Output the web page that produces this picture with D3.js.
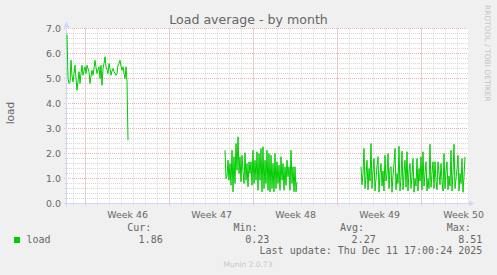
<!DOCTYPE html>
<html>
<head>
<meta charset="utf-8">
<script src="https://cdn.jsdelivr.net/npm/d3@7"></script>
<style>
body { margin: 0; background: #f0f0f0; }
svg { display: block; }
</style>
</head>
<body>
<div id="chart"></div>
<script>
// time window shown by the month graph (UTC)
var rangeStart = "2025-11-08T10:40:00Z"
var rangeEnd = "2025-12-11T20:40:00Z"
var stepHours = 2

// week grid and labels
var weekStarts = ["2025-11-10", "2025-11-17", "2025-11-24", "2025-12-01", "2025-12-08"]
var weekLabels = ["Week 46", "Week 47", "Week 48", "Week 49", "Week 50"]
var yTicks = [0, 1, 2, 3, 4, 5, 6, 7]

// load samples, one every 2 hours, three runs with gaps in between
var seg1Start = "2025-11-08T10:40:00Z"
var seg1Values = [6.76, 5.0, 4.8, 4.85, 5.73, 5.1, 4.87, 5.2, 5.53, 5.0, 4.53, 4.9, 5.27, 4.8, 5.2, 5.53,
    5.13, 5.3, 5.47, 5.2, 5.53, 5.4, 5.27, 4.8, 5.1, 5.33, 5.13, 5.4, 5.73, 5.45, 5.2, 5.35, 5.47, 5.0,
    5.53, 4.73, 5.4, 5.6, 5.87, 5.47, 5.35, 5.2, 5.6, 5.4, 5.13, 5.3, 5.4, 5.27, 5.2, 5.13, 5.2, 5.53,
    5.6, 5.73, 5.5, 5.33, 5.47, 5.2, 5.0, 5.47, 4.87, 2.53]
var seg2Start = "2025-11-21T14:40:00Z"
var seg2Values = [2.13, 1.0, 1.07, 1.73, 0.93, 1.6, 0.73, 2.13, 0.47, 1.87, 0.8, 2.4, 1.33, 2.67, 1.2, 1.87,
    0.87, 1.93, 1.27, 0.8, 2.03, 0.93, 1.6, 0.67, 1.67, 1.2, 1.67, 0.73, 2.13, 0.8, 1.73, 0.93, 2.07, 0.53,
    2.0, 0.93, 2.2, 0.47, 2.27, 0.6, 1.73, 0.8, 2.13, 0.53, 2.0, 0.47, 1.93, 0.6, 1.6, 0.47, 2.0, 0.6,
    1.67, 0.8, 1.53, 0.53, 1.87, 0.93, 1.6, 0.53, 1.47, 0.73, 1.73, 1.07, 1.47, 0.53, 2.13, 0.8, 1.47,
    0.47, 1.47, 0.47, 0.87]
var seg3Start = "2025-12-02T22:40:00Z"
var seg3Values = [1.47, 0.75, 1.2, 2.2, 0.6, 1.1, 1.73, 0.55, 1.4, 0.9, 2.4, 0.6, 1.3, 1.8, 0.5, 1.0,
    1.5, 1.87, 0.45, 1.2, 1.6, 0.7, 1.3, 0.5, 1.93, 0.9, 1.2, 2.0, 0.6, 1.4, 1.47, 0.45, 1.1, 1.6, 2.2,
    0.55, 1.2, 0.8, 2.29, 0.5, 1.0, 2.09, 0.55, 1.2, 1.73, 0.65, 2.07, 0.5, 1.3, 1.6, 0.6, 1.1, 1.8,
    0.45, 1.0, 0.7, 1.8, 0.5, 1.4, 0.9, 1.87, 0.55, 2.07, 0.7, 1.2, 1.67, 0.5, 1.0, 0.6, 2.37, 0.65,
    1.2, 1.67, 0.6, 1.67, 0.9, 0.55, 1.67, 1.2, 0.75, 1.6, 0.9, 0.5, 2.0, 0.6, 1.3, 1.67, 0.55, 1.1,
    0.7, 2.13, 0.5, 1.2, 2.37, 0.6, 1.0, 1.4, 1.93, 0.5, 1.2, 0.8, 1.8, 0.45, 1.1, 1.87]

// legend numbers
var legendHeads = ["Cur:", "Min:", "Avg:", "Max:"]
var legendValues = ["1.86", "0.23", "2.27", "8.51"]
var lastUpdate = "Last update: Thu Dec 11 17:00:24 2025"

// size of the picture and of the plot area
var width = 497
var height = 275
var plotLeft = 67, plotRight = 468, plotTop = 28.5, plotBottom = 203.5

var svg = d3.select("#chart")
    .append("svg")
    .attr("width", width)
    .attr("height", height)
    .style("background", "#f0f0f0")

var x = d3.scaleUtc()
    .domain([new Date(rangeStart), new Date(rangeEnd)])
    .range([plotLeft, plotRight])

var y = d3.scaleLinear()
    .domain([0, 7])
    .range([plotBottom, plotTop])

// white canvas
svg.append("rect")
    .attr("x", plotLeft).attr("y", plotTop - 0.5)
    .attr("width", plotRight - plotLeft).attr("height", plotBottom - plotTop + 0.5)
    .attr("fill", "#ffffff")

var crisp = function (v) { return Math.round(v - 0.5) + 0.5 }

// minor grid: every day and every 0.2
var days = d3.utcDay.range(x.domain()[0], x.domain()[1])
svg.selectAll(".vminor")
    .data(days)
    .enter()
    .append("line")
    .attr("x1", function (d) { return crisp(x(d)) })
    .attr("x2", function (d) { return crisp(x(d)) })
    .attr("y1", plotTop).attr("y2", plotBottom + 2)
    .attr("stroke", "#d6d6d6")
    .attr("stroke-dasharray", "1,1")

var minorY = d3.range(0.2, 7, 0.2).filter(function (v) { return Math.abs(v - Math.round(v)) > 0.01 })
svg.selectAll(".hminor")
    .data(minorY)
    .enter()
    .append("line")
    .attr("x1", plotLeft - 2).attr("x2", plotRight)
    .attr("y1", function (d) { return crisp(y(d)) })
    .attr("y2", function (d) { return crisp(y(d)) })
    .attr("stroke", "#d6d6d6")
    .attr("stroke-dasharray", "1,1")

// major grid: weeks and whole numbers
svg.selectAll(".vmajor")
    .data(weekStarts)
    .enter()
    .append("line")
    .attr("x1", function (d) { return crisp(x(new Date(d + "T00:00:00Z"))) })
    .attr("x2", function (d) { return crisp(x(new Date(d + "T00:00:00Z"))) })
    .attr("y1", plotTop).attr("y2", plotBottom + 3)
    .attr("stroke", "#eeb0b0")
    .attr("stroke-dasharray", "1,1")

svg.selectAll(".hmajor")
    .data(yTicks.slice(1))
    .enter()
    .append("line")
    .attr("x1", plotLeft - 3).attr("x2", plotRight)
    .attr("y1", function (d) { return crisp(y(d)) })
    .attr("y2", function (d) { return crisp(y(d)) })
    .attr("stroke", "#eeb0b0")
    .attr("stroke-dasharray", "1,1")

// axes in munin light blue
svg.append("line")
    .attr("x1", plotLeft - 3).attr("x2", plotRight + 2)
    .attr("y1", plotBottom).attr("y2", plotBottom)
    .attr("stroke", "#cfd6f8")
svg.append("line")
    .attr("x1", plotLeft - 0.5).attr("x2", plotLeft - 0.5)
    .attr("y1", plotBottom + 3).attr("y2", plotTop - 2)
    .attr("stroke", "#cfd6f8")
svg.append("path")
    .attr("d", "M" + (plotLeft - 3.5) + "," + (plotTop - 1) + "L" + (plotLeft + 2.5) + "," + (plotTop - 1) + "L" + (plotLeft - 0.5) + "," + (plotTop - 7) + "Z")
    .attr("fill", "#cfd6f8")
svg.append("path")
    .attr("d", "M" + (plotRight + 1) + "," + (plotBottom - 3) + "L" + (plotRight + 1) + "," + (plotBottom + 3) + "L" + (plotRight + 6) + "," + plotBottom + "Z")
    .attr("fill", "#cfd6f8")

// the load line
var points = []
var addRun = function (start, values) {
    var t0 = new Date(start).getTime()
    values.forEach(function (v, i) {
        points.push({ t: new Date(t0 + i * stepHours * 3600000), v: v })
    })
    points.push({ t: null, v: null })
}
addRun(seg1Start, seg1Values)
addRun(seg2Start, seg2Values)
addRun(seg3Start, seg3Values)

var line = d3.line()
    .defined(function (d) { return d.v !== null })
    .x(function (d) { return x(d.t) })
    .y(function (d) { return y(d.v) })

svg.append("path")
    .datum(points)
    .attr("d", line)
    .attr("fill", "none")
    .attr("stroke", "#00cc00")
    .attr("stroke-width", 1)

// tick labels
svg.selectAll(".ylab")
    .data(yTicks)
    .enter()
    .append("text")
    .attr("x", plotLeft - 6)
    .attr("y", function (d) { return y(d) })
    .attr("dy", "0.36em")
    .attr("text-anchor", "end")
    .style("font-family", "DejaVu Sans")
    .style("font-size", "9.4px")
    .style("fill", "#666666")
    .text(function (d) { return d3.format(".1f")(d) })

svg.selectAll(".xlab")
    .data(weekStarts)
    .enter()
    .append("text")
    .attr("x", function (d) { return x(d3.utcHour.offset(new Date(d + "T00:00:00Z"), 84)) })
    .attr("y", plotBottom + 14)
    .attr("text-anchor", "middle")
    .style("font-family", "DejaVu Sans")
    .style("font-size", "9.4px")
    .style("fill", "#666666")
    .text(function (d, i) { return weekLabels[i] })

// title and y label
svg.append("text")
    .attr("x", width / 2).attr("y", 24)
    .attr("text-anchor", "middle")
    .style("font-family", "DejaVu Sans")
    .style("font-size", "12.6px")
    .style("fill", "#666666")
    .text("Load average - by month")

svg.append("text")
    .attr("transform", "translate(14," + ((plotTop + plotBottom) / 2 - 3) + ") rotate(-90)")
    .attr("text-anchor", "middle")
    .style("font-family", "DejaVu Sans")
    .style("font-size", "10.6px")
    .style("fill", "#666666")
    .text("load")

svg.append("text")
    .attr("transform", "translate(484.5,5) rotate(90)")
    .attr("text-anchor", "start")
    .style("font-family", "DejaVu Sans")
    .style("font-size", "7.5px")
    .style("fill", "#c4c4c4")
    .text("RRDTOOL / TOBI OETIKER")

// legend
svg.append("rect")
    .attr("x", 14).attr("y", 237)
    .attr("width", 6).attr("height", 6)
    .attr("fill", "#00cc00")
svg.append("text")
    .attr("x", 26.5).attr("y", 242.7)
    .style("font-family", "DejaVu Sans Mono")
    .style("font-size", "10px")
    .style("fill", "#666666")
    .text("load")

var headX = [127.3, 233.5, 340, 446.7]
var valueX = [162.7, 269.3, 375.7, 482.3]
svg.selectAll(".lhead")
    .data(legendHeads)
    .enter()
    .append("text")
    .attr("x", function (d, i) { return headX[i] })
    .attr("y", 230.8)
    .style("font-family", "DejaVu Sans Mono")
    .style("font-size", "10px")
    .style("fill", "#666666")
    .text(function (d) { return d })
svg.selectAll(".lval")
    .data(legendValues)
    .enter()
    .append("text")
    .attr("x", function (d, i) { return valueX[i] })
    .attr("y", 242.7)
    .attr("text-anchor", "end")
    .style("font-family", "DejaVu Sans Mono")
    .style("font-size", "10px")
    .style("fill", "#666666")
    .text(function (d) { return d })

svg.append("text")
    .attr("x", 482.3).attr("y", 254.3)
    .attr("text-anchor", "end")
    .style("font-family", "DejaVu Sans Mono")
    .style("font-size", "10px")
    .style("fill", "#666666")
    .text(lastUpdate)

svg.append("text")
    .attr("x", 248).attr("y", 266.5)
    .attr("text-anchor", "middle")
    .style("font-family", "DejaVu Sans")
    .style("font-size", "7.5px")
    .style("fill", "#c8c8c8")
    .text("Munin 2.0.73")
</script>
</body>
</html>
